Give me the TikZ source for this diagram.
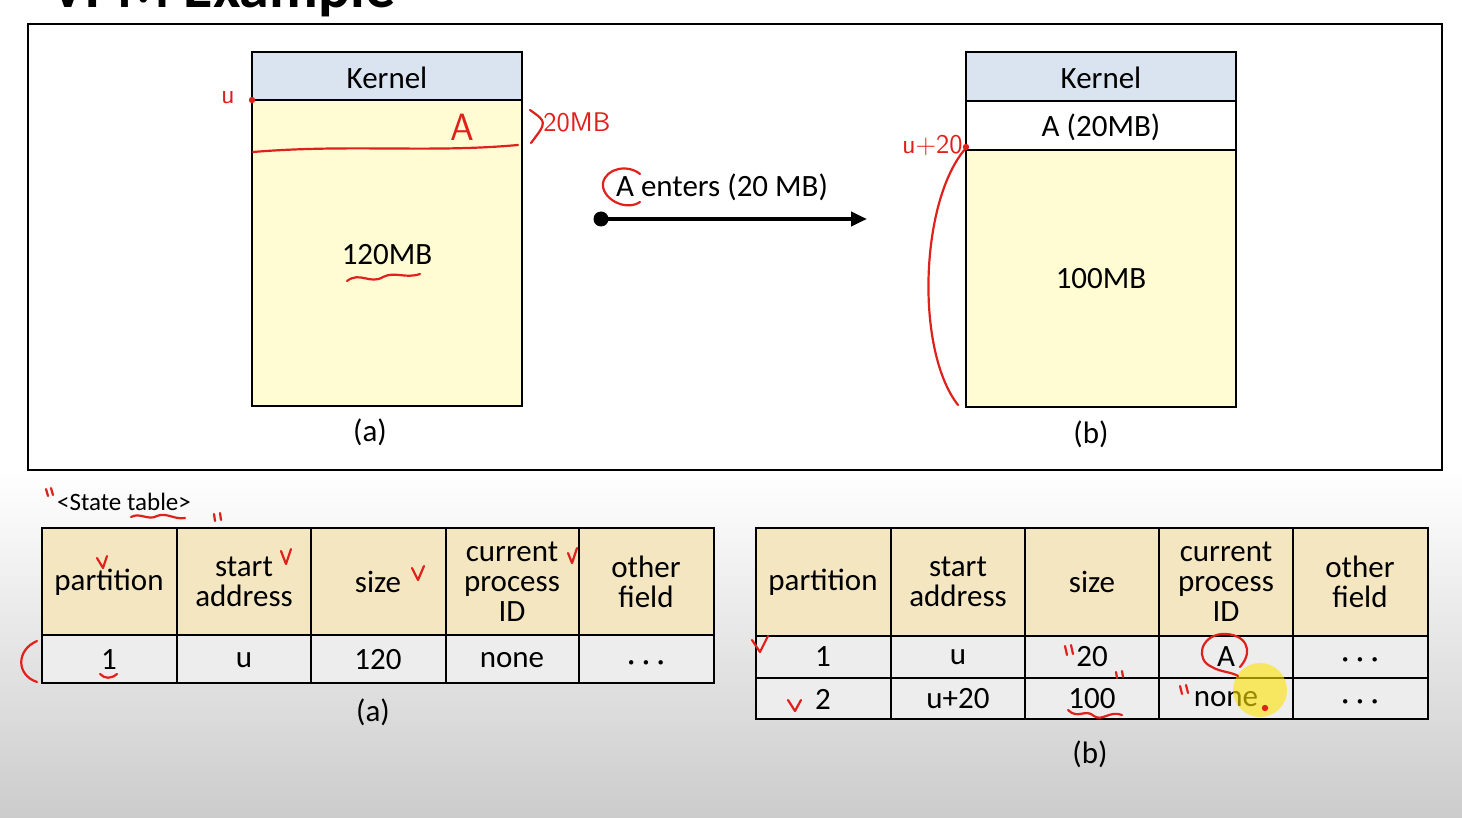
\documentclass[tikz,border=0pt]{standalone}
\usepackage{fontspec}
\setmainfont{Carlito}
\usetikzlibrary{arrows.meta}

\definecolor{kernelblue}{HTML}{DAE3F0}
\definecolor{freeyellow}{HTML}{FFFBD3}
\definecolor{headtan}{HTML}{F3E6C0}
\definecolor{rowgray}{HTML}{EDEDED}
\definecolor{inkred}{HTML}{E0201B}

\begin{document}
\begin{tikzpicture}[x=0.5pt, y=-0.5pt,
    every node/.style={font=\fontsize{15.5}{15}\selectfont, inner sep=0pt},
    box/.style={draw, line width=1pt},
    grid/.style={line width=1pt},
    ink/.style={draw=inkred, line width=1.1pt, line cap=round, line join=round},
    inktext/.style={text=inkred, font=\sffamily\fontsize{13.5}{13.5}\selectfont}]
  \useasboundingbox (0,0) rectangle (1462,818);
  \clip (0,0) rectangle (1462,818);

  % Background
  \fill[white] (0,0) rectangle (1462,818);
  \shade[top color=white, bottom color=black!20] (0,470) rectangle (1462,818);

  % Title (cut by the top edge)
  \node[anchor=base west, font=\bfseries\fontsize{30}{30}\selectfont] (title) at (50,8) {VPM Example};

  % Frame
  \draw[line width=1pt] (28,24) rectangle (1442,470);

  % Memory (a)
  \draw[box, fill=kernelblue] (252,52) rectangle (522,100);
  \draw[box, fill=freeyellow] (252,100) rectangle (522,406);
  \node (kernA) at (387,78) {Kernel};
  \node (freeA) at (387,255) {120MB};
  \node (capA) at (370,432) {(a)};

  % Memory (b)
  \draw[box, fill=kernelblue] (966,52) rectangle (1236,101);
  \draw[box, fill=white] (966,101) rectangle (1236,150);
  \draw[box, fill=freeyellow] (966,150) rectangle (1236,407);
  \node (kernB) at (1101,78) {Kernel};
  \node (procA) at (1101,127) {A (20MB)};
  \node (freeB) at (1101,279) {100MB};
  \node (capB) at (1091,434) {(b)};

  % Arrow
  \node[circle, fill, minimum size=7.5pt] (src) at (601,219) {};
  \coordinate (dst) at (867,219);
  \draw[line width=2pt, -{Triangle[length=8pt,width=7pt]}] (src.center) -- (dst);
  \node (enter) at (722,187) {A enters (20 MB)};

  % State table (a)
  \node[font=\fontsize{12.5}{12}\selectfont] (stab) at (124,502) {<State table>};
  \fill[headtan] (42,528) rectangle (714,635);
  \fill[rowgray] (42,635) rectangle (714,683);
  \draw[grid] (42,528) rectangle (714,683);
  \draw[grid] (42,635) -- (714,635);
  \foreach \x in {177,311,446,579} \draw[grid] (\x,528) -- (\x,683);
  \foreach \cx/\txt/\nm in {109/partition/ha1, 244/{start\\address}/ha2, 378/size/ha3,
      512/{current\\process\\ID}/ha4, 646/{other\\field}/ha5}
    \node[align=center] (\nm) at (\cx,582) {\txt};
  \foreach \cx/\txt/\nm in {109/1/ra1, 244/u/ra2, 378/120/ra3, 512/none/ra4}
    \node (\nm) at (\cx,660) {\txt};
  \node (ra5) at (646,666) {· · ·};
  \node (tcapA) at (373,712) {(a)};

  % State table (b)
  \fill[headtan] (756,528) rectangle (1428,636);
  \fill[rowgray] (756,636) rectangle (1428,719);
  \draw[grid] (756,528) rectangle (1428,719);
  \draw[grid] (756,636) -- (1428,636);
  \draw[grid] (756,678) -- (1428,678);
  \foreach \x in {891,1025,1159,1293} \draw[grid] (\x,528) -- (\x,719);
  \foreach \cx/\txt/\nm in {823/partition/hb1, 958/{start\\address}/hb2, 1092/size/hb3,
      1226/{current\\process\\ID}/hb4, 1360/{other\\field}/hb5}
    \node[align=center] (\nm) at (\cx,582) {\txt};
  \foreach \cx/\txt/\nm in {823/1/rb1, 958/u/rb2, 1092/20/rb3, 1226/A/rb4}
    \node (\nm) at (\cx,657) {\txt};
  \node (rb5) at (1360,663) {· · ·};
  \foreach \cx/\txt/\nm in {823/2/rc1, 958/u+20/rc2, 1092/100/rc3, 1226/none/rc4}
    \node (\nm) at (\cx,699) {\txt};
  \node (rc5) at (1360,705) {· · ·};
  \node (tcapB) at (1090,754) {(b)};

  % Pointer highlight
  \fill[yellow!85!orange, opacity=0.6] (1260,690) circle (13.5pt);

  % Red ink notes
  \fill[inkred] (252,100) circle (1.6pt);
  \node[inktext] (nu) at (228,98) {u};
  \draw[ink] (253,152) .. controls (350,144) and (430,153) .. (518,145);
  \node[inktext, font=\sffamily\fontsize{19}{19}\selectfont] (nA) at (462,127) {A};
  \draw[ink] (530,110) .. controls (547,122) .. (531,143);
  \node[inktext, anchor=west] (n20) at (543,122) {20MB};
  \draw[ink] (347,281) .. controls (360,271) and (370,285) .. (383,277)
    .. controls (395,271) and (405,279) .. (420,274);
  \draw[ink] (640,174) .. controls (628,164) and (606,168) .. (603,183)
    .. controls (601,198) and (625,212) .. (640,202);
  \fill[inkred] (966,147) circle (1.6pt);
  \node[inktext, anchor=east] (nu20) at (963,145) {u+20};
  \draw[ink] (966,148) .. controls (920,200) and (915,350) .. (958,405);
  % table (a) notes
  \draw[ink] (46,489) -- (48,496) (51,488) -- (53,495);
  \draw[ink] (131,517) .. controls (140,512) and (148,521) .. (157,516)
    .. controls (166,512) and (175,520) .. (185,518);
  \draw[ink] (214,514) -- (215,521) (220,513) -- (221,520);
  \draw[ink] (97,558) -- (103,568) -- (107,556);
  \draw[ink] (281,551) -- (286,564) -- (291,549);
  \draw[ink] (412,568) -- (418,580) -- (424,566);
  \draw[ink] (568,553) -- (572,563) -- (577,548);
  \draw[ink] (37,641) .. controls (16,650) and (16,675) .. (37,682);
  \draw[ink] (100,674) .. controls (105,679) and (111,679) .. (117,674);
  % table (b) notes
  \draw[ink] (752,640) -- (760,652) -- (768,636);
  \draw[ink] (788,700) -- (795,711) -- (801,700);
  \draw[ink] (1065,646) -- (1067,655) (1071,645) -- (1073,654);
  \draw[ink] (1116,672) -- (1117,678) (1122,671) -- (1123,677);
  \draw[ink] (1240,667) .. controls (1255,650) and (1245,633) .. (1222,634)
    .. controls (1200,636) and (1195,660) .. (1212,667)
    .. controls (1220,672) and (1232,672) .. (1238,676);
  \draw[ink] (1068,710) .. controls (1078,720) and (1085,708) .. (1094,716)
    .. controls (1102,722) and (1110,710) .. (1122,715);
  \draw[ink] (1180,686) -- (1182,694) (1186,685) -- (1188,693);
  \fill[inkred] (1265,708) circle (1.6pt);
\end{tikzpicture}
\end{document}
